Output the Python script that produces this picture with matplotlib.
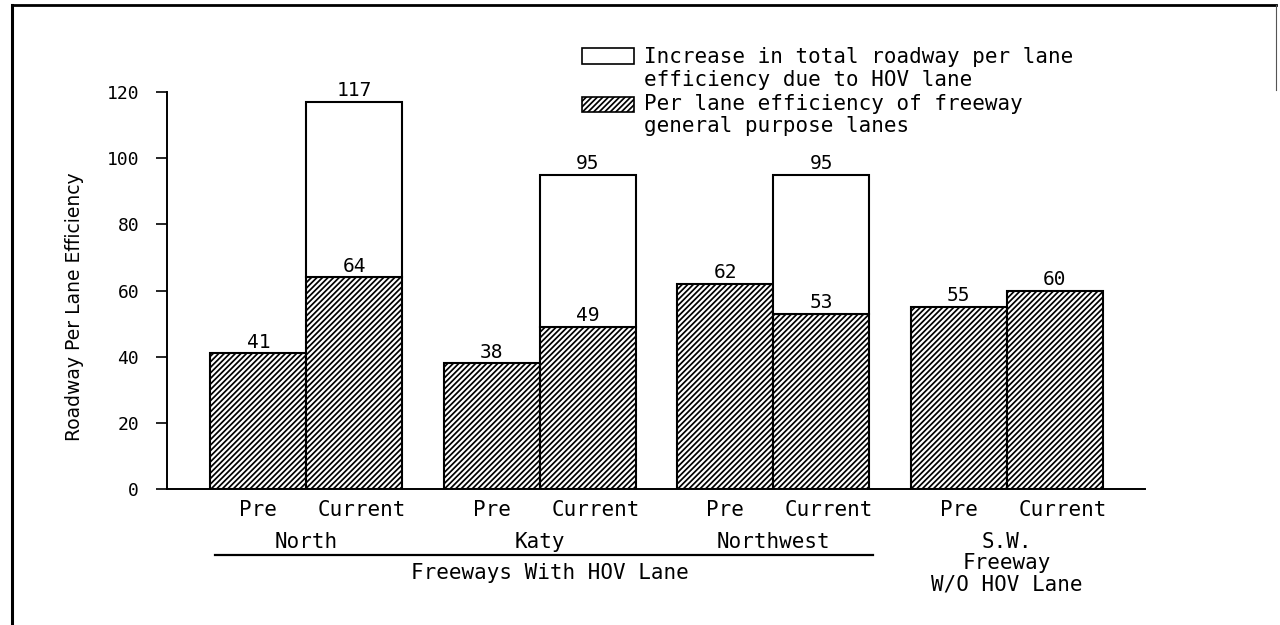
import matplotlib
matplotlib.use("Agg")
from matplotlib import pyplot as plt
from matplotlib.patches import Rectangle
from matplotlib.lines import Line2D
from matplotlib.transforms import blended_transform_factory

# per lane efficiency of the general purpose lanes
freeways = ["North", "Katy", "Northwest", "S.W.\nFreeway\nW/O HOV Lane"]
pre_values = [41, 38, 62, 55]
current_values = [64, 49, 53, 60]
# total roadway per lane efficiency with the HOV lane (None = no HOV lane)
current_totals = [117, 95, 95, None]

period_labels = ["Pre", "Current"]
y_ticks = [0, 20, 40, 60, 80, 100, 120]
y_label = "Roadway Per Lane Efficiency"
hov_group_label = "Freeways With HOV Lane"
legend_labels = [
	"Increase in total roadway per lane\nefficiency due to HOV lane",
	"Per lane efficiency of freeway\ngeneral purpose lanes",
]

MONO = "DejaVu Sans Mono"
HATCH = "//////"
plt.rcParams["hatch.linewidth"] = 1.25

W, H = 1280, 625


def fy(px):
	# figure fraction from a pixel row counted from the top
	return 1 - px / H


def fx(px):
	return px / W


def main():
	fig = plt.figure(figsize=(W / 100, H / 100), dpi=100)
	ax = fig.add_axes([fx(167), fy(489), fx(1145) - fx(167), fy(92) - fy(489)])

	step = 2.43
	pre_x = [i * step for i in range(len(freeways))]
	cur_x = [x + 1 for x in pre_x]

	bar_kw = dict(width=1.0, color="white", edgecolor="black", linewidth=1.5, hatch=HATCH)
	ax.bar(pre_x, pre_values, **bar_kw)
	ax.bar(cur_x, current_values, **bar_kw)

	# white increase segment on top of the current bars
	for x, base, total in zip(cur_x, current_values, current_totals):
		if total is None:
			continue
		ax.bar(x, total - base, bottom=base, width=1.0, color="white",
			edgecolor="black", linewidth=1.5)
		ax.text(x, total + 0.5, str(total), ha="center", va="bottom",
			family=MONO, fontsize=14)

	for x, v in zip(pre_x, pre_values):
		ax.text(x, v + 0.5, str(v), ha="center", va="bottom", family=MONO, fontsize=14)
	for x, v in zip(cur_x, current_values):
		ax.text(x, v + 0.5, str(v), ha="center", va="bottom", family=MONO, fontsize=14)

	ax.set_xlim(-0.95, pre_x[-1] + 1.5 + 0.44)
	ax.set_ylim(0, 120)
	ax.set_yticks(y_ticks)
	ax.set_yticklabels([str(t) for t in y_ticks], family=MONO, fontsize=13)
	ax.tick_params(axis="y", direction="out", length=8, width=1.2, pad=12)
	ax.set_xticks([])
	for side in ("top", "right"):
		ax.spines[side].set_visible(False)
	for side in ("left", "bottom"):
		ax.spines[side].set_linewidth(1.4)

	fig.text(fx(75), fy(307), y_label, rotation=90, ha="center", va="center",
		family="DejaVu Sans", fontsize=13.5)

	# category labels below the axis
	tr = blended_transform_factory(ax.transData, fig.transFigure)
	for px, cx in zip(pre_x, cur_x):
		ax.text(px, fy(510), period_labels[0], transform=tr, ha="center", va="center",
			family=MONO, fontsize=15)
		ax.text(cx + 0.08, fy(510), period_labels[1], transform=tr, ha="center", va="center",
			family=MONO, fontsize=15)

	for i, name in enumerate(freeways[:3]):
		ax.text(pre_x[i] + 0.5, fy(542), name, transform=tr, ha="center", va="center",
			family=MONO, fontsize=15)
	sw = freeways[3].split("\n")
	for row, line in zip((542, 563, 584), sw):
		ax.text(pre_x[3] + 0.5, fy(row), line, transform=tr, ha="center", va="center",
			family=MONO, fontsize=15)

	# bracket line under the HOV freeways
	fig.add_artist(Line2D([fx(215), fx(873)], [fy(555), fy(555)], color="black", linewidth=1.6))
	fig.text(fx(550), fy(573), hov_group_label, ha="center", va="center",
		family=MONO, fontsize=15)

	# legend
	fig.add_artist(Rectangle((fx(582), fy(64)), fx(52), fy(48) - fy(64), transform=fig.transFigure,
		facecolor="white", edgecolor="black", linewidth=1.2))
	fig.add_artist(Rectangle((fx(582), fy(112)), fx(52), fy(97) - fy(112), transform=fig.transFigure,
		facecolor="white", edgecolor="black", linewidth=1.2, hatch=HATCH))
	first, second = legend_labels
	for row, line in zip((57, 80), first.split("\n")):
		fig.text(fx(644), fy(row), line, ha="left", va="center", family=MONO, fontsize=15)
	for row, line in zip((104, 126), second.split("\n")):
		fig.text(fx(644), fy(row), line, ha="left", va="center", family=MONO, fontsize=15)

	# page frame
	fig.add_artist(Line2D([fx(12), fx(12)], [fy(5), 0], color="black", linewidth=2.2))
	fig.add_artist(Line2D([fx(12), fx(1276)], [fy(5), fy(5)], color="black", linewidth=2.0))
	fig.add_artist(Line2D([fx(1276), fx(1276)], [fy(5), fy(90)], color="#555555", linewidth=0.8))

	fig.savefig("out.png", dpi=100)
	plt.close(fig)


if __name__ == "__main__":
	main()
